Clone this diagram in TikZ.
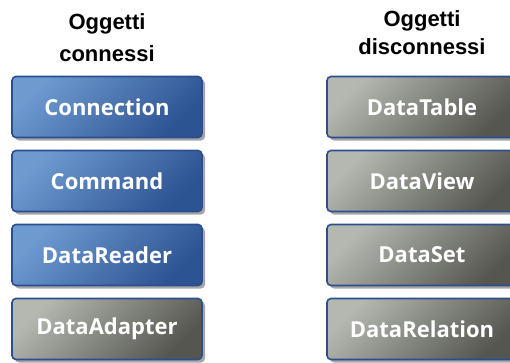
\documentclass[tikz,border=0pt]{standalone}
\usepackage{fontspec}
\setmainfont{Liberation Sans}
\newfontfamily\boxfont{Open Sans}
\usetikzlibrary{shadows,patterns}
\definecolor{bluelight}{HTML}{6E9AD0}
\definecolor{bluedark}{HTML}{2C5392}
\definecolor{graylight}{HTML}{B4B8B0}
\definecolor{graydark}{HTML}{54564F}
\definecolor{edgeblue}{HTML}{2A4E8E}
\definecolor{shadowgray}{HTML}{A6A6A6}
\tikzset{
  objbox/.style={rounded corners=4bp, draw=edgeblue, line width=1.6bp,
    minimum width=190bp, minimum height=61bp, inner sep=0pt,
    font=\boxfont\bfseries\fontsize{22bp}{26bp}\selectfont, text=white,
    drop shadow={shadow xshift=3bp, shadow yshift=-3bp, fill=shadowgray, opacity=1, draw=none}},
  bluebox/.style={objbox, top color=bluelight, bottom color=bluedark, shading angle=45},
  graybox/.style={objbox, top color=graylight, bottom color=graydark, shading angle=45},
  titletext/.style={align=center, font=\bfseries\fontsize{22bp}{26bp}\selectfont, inner sep=0pt}
}
\begin{document}
\begin{tikzpicture}[x=1bp,y=-1bp]
\useasboundingbox (0,0) rectangle (510,362);
\clip (0,0) rectangle (510,362);
\node[titletext, anchor=base] (t1a) at (107,29) {Oggetti};
\node[titletext, anchor=base] (t1b) at (107,61) {connessi};
\node[titletext, anchor=base] (t2a) at (422,26) {Oggetti};
\node[titletext, anchor=base] (t2b) at (422,54) {disconnessi};
\node[bluebox] (conn) at (107,107) {Connection};
\node[bluebox] (cmd) at (107,181) {Command};
\node[bluebox] (rdr) at (107,255) {DataReader};
\node[graybox] (adp) at (107,329) {DataAdapter};
\node[graybox] (tbl) at (422,107) {DataTable};
\node[graybox] (vw) at (422,181) {DataView};
\node[graybox] (set) at (422,255) {DataSet};
\node[graybox] (rel) at (422,329) {DataRelation};
\end{tikzpicture}
\end{document}
